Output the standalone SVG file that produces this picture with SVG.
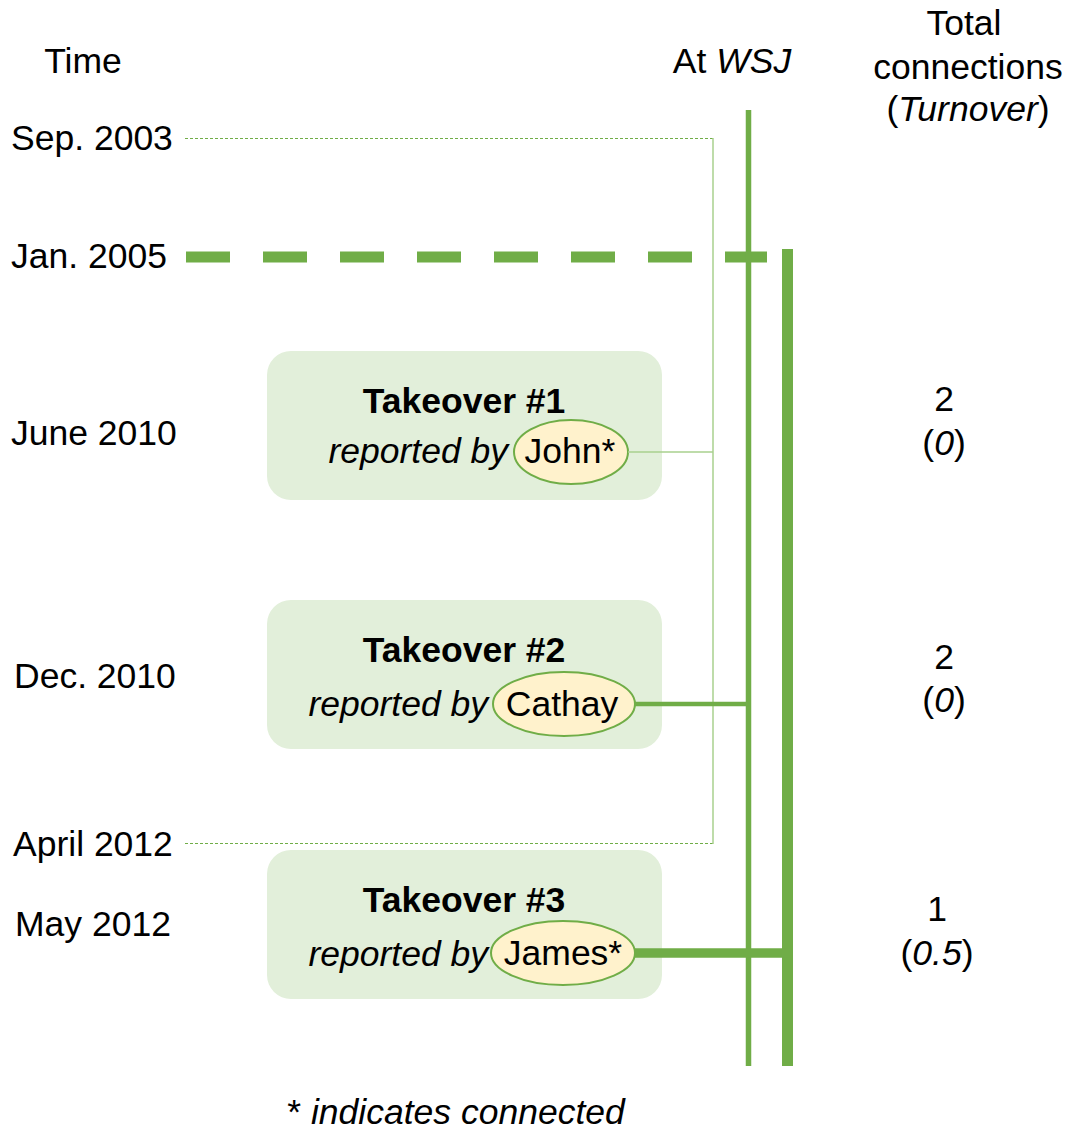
<svg xmlns="http://www.w3.org/2000/svg" width="1071" height="1131" viewBox="0 0 1071 1131">
<style>
text{font-family:"Liberation Sans",Arial,sans-serif;font-size:35.5px;fill:#000}
.it{font-style:italic}
.b{font-weight:bold}
.m{text-anchor:middle}
.box{fill:#E2EFDA}
.ell{fill:#FFF2CC;stroke:#70AD47;stroke-width:2}
.dot{stroke:#70AD47;stroke-width:1;stroke-dasharray:3 2;fill:none}
.thin{stroke:#A9D18E;stroke-width:1.5;fill:none}
.g{stroke:#70AD47;fill:none}
</style>
<rect width="1071" height="1131" fill="#fff"/>
<g id="labels">
<text x="83" y="73" class="m">Time</text>
<text x="11" y="150">Sep. 2003</text>
<text x="11" y="268">Jan. 2005</text>
<text x="11" y="445">June 2010</text>
<text x="14" y="688">Dec. 2010</text>
<text x="13" y="856">April 2012</text>
<text x="15" y="936">May 2012</text>
<text x="732" y="73" class="m">At <tspan class="it">WSJ</tspan></text>
<text x="964" y="35" class="m">Total</text>
<text x="968" y="79" class="m">connections</text>
<text x="968" y="121" class="m">(<tspan class="it">Turnover</tspan>)</text>
<text x="944" y="411" class="m">2</text>
<text x="944" y="455" class="m">(<tspan class="it">0</tspan>)</text>
<text x="944" y="669" class="m">2</text>
<text x="944" y="712" class="m">(<tspan class="it">0</tspan>)</text>
<text x="937" y="921" class="m">1</text>
<text x="937" y="965" class="m">(<tspan class="it">0.5</tspan>)</text>
<text x="456" y="1124" class="m">* <tspan class="it">indicates connected</tspan></text>
</g>
<g id="takeover1">
<rect class="box" x="267" y="351" width="395" height="149" rx="24"/>
<text x="464" y="413" class="m b">Takeover #1</text>
<text x="508" y="463" class="it" text-anchor="end">reported by</text>
<ellipse class="ell" cx="571" cy="452" rx="57" ry="32"/>
<text x="570" y="463" class="m">John*</text>
</g>
<g id="takeover2">
<rect class="box" x="267" y="600" width="395" height="149" rx="24"/>
<text x="464" y="662" class="m b">Takeover #2</text>
<text x="488" y="716" class="it" text-anchor="end">reported by</text>
<ellipse class="ell" cx="564" cy="704" rx="71" ry="32"/>
<text x="562" y="716" class="m">Cathay</text>
</g>
<g id="takeover3">
<rect class="box" x="267" y="850" width="395" height="149" rx="24"/>
<text x="464" y="912" class="m b">Takeover #3</text>
<text x="488" y="966" class="it" text-anchor="end">reported by</text>
<ellipse class="ell" cx="563" cy="953" rx="72" ry="32"/>
<text x="563" y="965" class="m">James*</text>
</g>
<g id="connectors">
<line class="dot" x1="185" y1="138.5" x2="713" y2="138.5"/>
<line class="dot" x1="185" y1="843.5" x2="713" y2="843.5"/>
<line class="thin" x1="713" y1="138" x2="713" y2="844"/>
<line class="g" x1="186" y1="257" x2="767" y2="257" stroke-width="11" stroke-dasharray="44 33"/>
<line class="g" x1="748.5" y1="110" x2="748.5" y2="1066" stroke-width="5.5"/>
<line class="g" x1="787.5" y1="249" x2="787.5" y2="1066" stroke-width="11"/>
<line class="thin" x1="628" y1="452" x2="713" y2="452"/>
<line class="g" x1="635" y1="704" x2="748" y2="704" stroke-width="4.5"/>
<line class="g" x1="635" y1="953" x2="788" y2="953" stroke-width="9.5"/>
</g>
</svg>
